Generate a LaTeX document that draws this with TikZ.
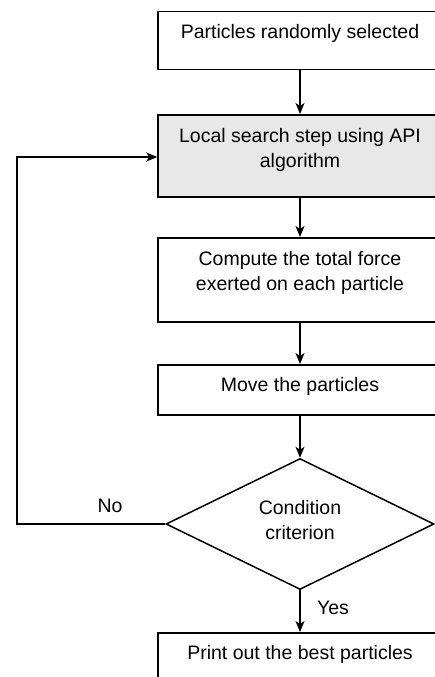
\documentclass[tikz,border=0pt]{standalone}
\usepackage{fontspec}
\setmainfont{Liberation Sans}
\usetikzlibrary{arrows.meta,shapes.geometric}
\definecolor{boxgray}{RGB}{232,232,232}
\begin{document}
\begin{tikzpicture}[x=1pt,y=-1pt,
  every node/.style={font=\fontsize{19.5}{25}\selectfont},
  stepbox/.style={draw=black,line width=1.5pt,minimum width=284pt,inner sep=0pt,anchor=north},
  steptext/.style={anchor=base,inner sep=0pt},
  flow/.style={line width=1.5pt,-{Stealth[length=11pt,width=9pt,inset=3pt]}}]
\useasboundingbox (0,0) rectangle (435,677);
\clip (0,0) rectangle (435,677);

% process boxes
\node[stepbox,minimum height=58pt] (b1) at (300,11) {};
\node[stepbox,minimum height=82pt,fill=boxgray] (b2) at (300,114) {};
\node[stepbox,minimum height=84pt] (b3) at (300,237) {};
\node[stepbox,minimum height=50pt] (b4) at (300,364) {};
\node[stepbox,minimum height=60pt] (b5) at (300,632) {};

% decision
\node[diamond,draw=black,line width=1.5pt,inner sep=0pt,
      minimum width=268pt,minimum height=131pt] (d) at (300,524) {};

% texts, one node per line, placed by baseline
\node[steptext] at (300,39) {Particles randomly selected};
\node[steptext] at (300,142) {Local search step using API};
\node[steptext] at (300,167) {algorithm};
\node[steptext] at (300,265) {Compute the total force};
\node[steptext] at (300,290) {exerted on each particle};
\node[steptext] at (300,391) {Move the particles};
\node[steptext] at (300,514) {Condition};
\node[steptext] at (300,539) {criterion};
\node[steptext] at (300,659) {Print out the best particles};

% connectors
\draw[flow] (b1.south) -- (b2.north);
\draw[flow] (b2.south) -- (b3.north);
\draw[flow] (b3.south) -- (b4.north);
\draw[flow] (b4.south) -- (d.north);
\draw[flow] (d.south) -- (b5.north);
\coordinate (loopb) at (17,524);
\coordinate (loopt) at (17,157);
\draw[flow] (d.west) -- (loopb) -- (loopt) -- (b2.west |- loopt);

% branch labels
\node[steptext] at (110,512) {No};
\node[steptext] at (333,614) {Yes};
\end{tikzpicture}
\end{document}
